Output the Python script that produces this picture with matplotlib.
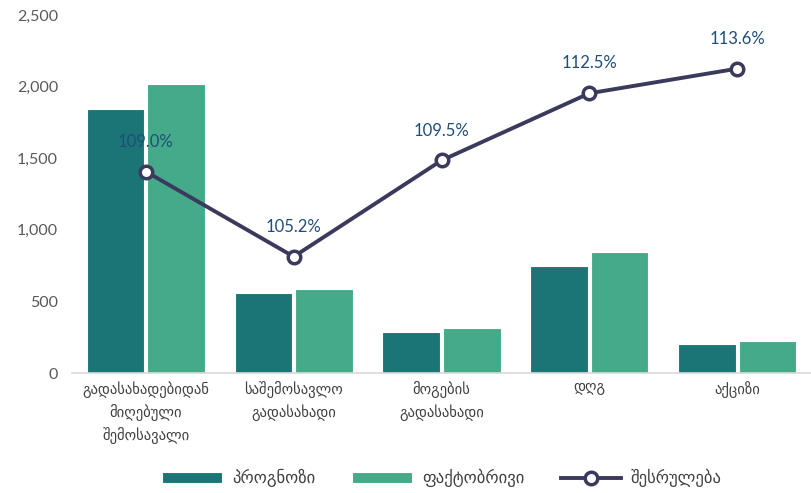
import matplotlib
matplotlib.use("Agg")
import matplotlib.pyplot as plt
import numpy as np
from matplotlib.ticker import FuncFormatter

plt.rcParams['font.family'] = ['Lato', 'DejaVu Sans']

categories = ["გადასახადებიდან\nმიღებული\nშემოსავალი", "საშემოსავლო\nგადასახადი",
              "მოგების\nგადასახადი", "დღგ", "აქციზი"]
forecast = [1846, 559, 285, 747, 201]
actual = [2016, 587, 314, 845, 225]
execution = [109.0, 105.2, 109.5, 112.5, 113.6]
series_names = ["პროგნოზი", "ფაქტობრივი", "შესრულება"]

c_teal = "#1B7475"
c_green = "#45AA8A"
c_line = "#3A3A5C"
c_lbl = "#1F4E79"

fig = plt.figure(figsize=(8.11, 4.93), dpi=100)
ax = fig.add_axes([0.0888, 0.2434, 0.9112, 0.7262])
x = np.arange(len(categories))
w = 0.39
b1 = ax.bar(x - w/2 - 0.01, forecast, w, color=c_teal, edgecolor="white", linewidth=0.8, label=series_names[0])
b2 = ax.bar(x + w/2 + 0.01, actual, w, color=c_green, edgecolor="white", linewidth=0.8, label=series_names[1])
ax.set_ylim(0, 2500)
ax.set_xlim(-0.5, len(categories) - 0.5)
ax.set_yticks(np.arange(0, 2501, 500))
ax.yaxis.set_major_formatter(FuncFormatter(lambda v, p: f"{int(v):,}"))
ax.set_xticks(x)
ax.set_xticklabels(categories, fontsize=10.5, color="#404040", linespacing=1.45)
ax.tick_params(axis='y', labelsize=11.5, colors="#595959", length=0, pad=10)
ax.tick_params(axis='x', length=0, pad=6)
for s in ["top", "right", "left"]:
    ax.spines[s].set_visible(False)
ax.spines["bottom"].set_color("#D9D9D9")
ax.spines["bottom"].set_linewidth(1.2)

ax2 = ax.twinx()
ax2.set_ylim(100, 116)
ln, = ax2.plot(x, execution, color=c_line, linewidth=2.8, marker='o', markersize=9,
               markerfacecolor="white", markeredgecolor=c_line, markeredgewidth=2.5,
               label=series_names[2], zorder=5)
for xi, v in zip(x, execution):
    ax2.annotate(f"{v:.1f}%", (xi, v), xytext=(0, 21.5), textcoords="offset points",
                 ha="center", va="center", fontsize=12, color=c_lbl)
ax2.axis("off")

fig.legend(handles=[b1, b2, ln], labels=series_names, loc="center", bbox_to_anchor=(0.545, 0.03),
           ncol=3, frameon=False, fontsize=12, handlelength=3.6, columnspacing=2.2,
           handletextpad=0.6, labelcolor="#404040")

fig.savefig("out.png", dpi=100)
